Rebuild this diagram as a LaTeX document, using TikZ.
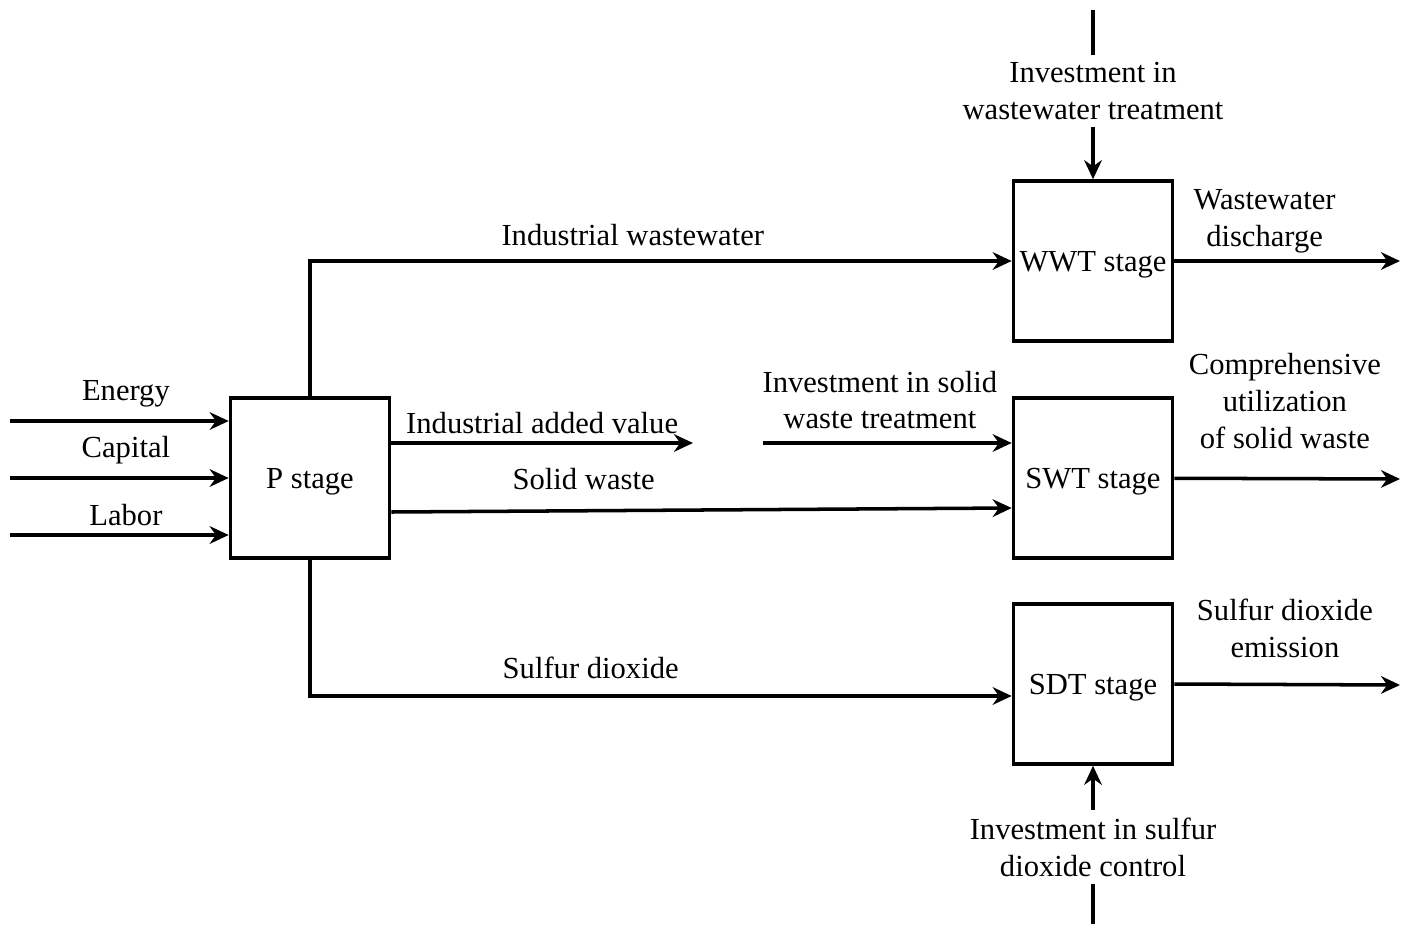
\documentclass[tikz,border=0pt]{standalone}
\usepackage{fontspec}
\setmainfont{Liberation Serif}
\usetikzlibrary{arrows.meta,positioning}

\begin{document}
\begin{tikzpicture}[x=0.01cm,y=-0.01cm,
    every node/.style={font=\fontsize{8.7}{10.5}\selectfont, inner sep=2pt},
    stage/.style={draw, line width=1pt, minimum width=1.59cm, minimum height=1.6cm, inner sep=0pt, text depth=0pt},
    flow/.style={line width=1pt, -{Stealth[length=5.4pt,width=5pt]}},
    feed/.style={line width=1pt}]
  \useasboundingbox (0,0) rectangle (1409,924);

  % stages
  \node[stage] (P) at (310,478) {P stage};
  \node[stage] (WWT) at (1093,261) {WWT stage};
  \node[stage] (SWT) at (1093,478) {SWT stage};
  \node[stage] (SDT) at (1093,684) {SDT stage};

  % inputs of P
  \coordinate (energy) at (10,421);
  \coordinate (capital) at (10,478);
  \coordinate (labor) at (10,535);
  \draw[flow] (energy) -- (P.west |- energy) node[pos=0.53, above=1.5pt] {Energy};
  \draw[flow] (capital) -- (P.west |- capital) node[pos=0.53, above=1.5pt] {Capital};
  \draw[flow] (labor) -- (P.west |- labor) node[pos=0.53, above] {Labor};

  % outputs of P
  \draw[flow] (P.north) |- (WWT.west) node[pos=0.73, above=1.7pt] {Industrial wastewater};
  \coordinate (value) at (693,443);
  \draw[flow] (P.east |- value) -- (value) node[midway, above] {Industrial added value};
  \draw[flow] (P.east |- 0,512) -- (SWT.west |- 0,508) node[pos=0.31, above=3.4pt] {Solid waste};
  \draw[flow] (P.south) |- (SDT.west |- 0,696) node[pos=0.7, above=2.5pt] {Sulfur dioxide};

  % investments
  \node[align=center] (wwinv) at (1093,91) {Investment in\\wastewater treatment};
  \coordinate (wwtop) at (1093,10);
  \draw[feed] (wwtop) -- (wwinv);
  \draw[flow] (wwinv) -- (WWT);
  \coordinate (swinv) at (763,443);
  \draw[flow] (swinv) -- (SWT.west |- swinv) node[pos=0.47, above=1.4pt, align=center] {Investment in solid\\waste treatment};
  \node[align=center] (sdinv) at (1093,847) {Investment in sulfur\\dioxide control};
  \coordinate (sdbot) at (1093,924);
  \draw[flow] (sdinv) -- (SDT);
  \draw[feed] (sdinv) -- (sdbot);

  % outputs of the treatment stages
  \coordinate (wwout) at (1400,261);
  \coordinate (swout) at (1400,479);
  \coordinate (sdout) at (1400,685);
  \draw[flow] (WWT) -- (wwout) node[pos=0.4, above=-0.3pt, align=center] {Wastewater\\discharge};
  \draw[flow] (SWT) -- (swout) node[pos=0.49, above=6pt, align=center] {Comprehensive\\utilization\\of solid waste};
  \draw[flow] (SDT.east |- 0,684) -- (sdout) node[pos=0.49, above=5pt, align=center] {Sulfur dioxide\\emission};
\end{tikzpicture}
\end{document}
